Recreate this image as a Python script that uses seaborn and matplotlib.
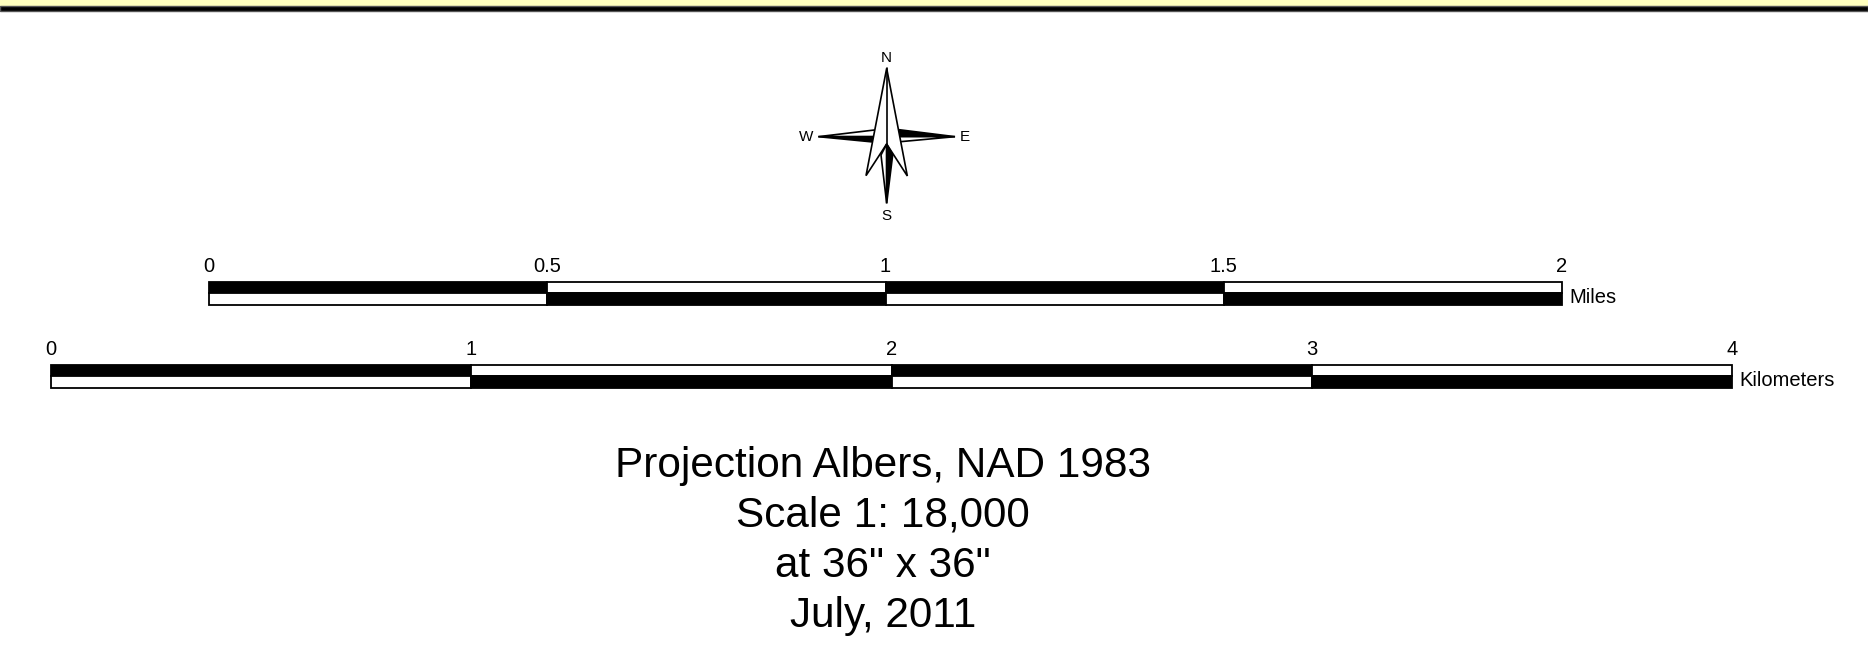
import numpy as np
import matplotlib
matplotlib.use('Agg')
import matplotlib.pyplot as plt
from matplotlib.patches import Polygon, Rectangle
import seaborn as sns

sns.set_style('white')
plt.rcParams['font.family'] = ['Liberation Sans', 'DejaVu Sans']
plt.rcParams['text.color'] = 'black'

# scale bar data
miles_ticks = [0, 0.5, 1, 1.5, 2]
miles_labels = ['0', '0.5', '1', '1.5', '2']
km_ticks = [0, 1, 2, 3, 4]
km_labels = ['0', '1', '2', '3', '4']
info_lines = ['Projection Albers, NAD 1983', 'Scale 1: 18,000', 'at 36" x 36"', 'July, 2011']

W, H = 1868, 659
fig = plt.figure(figsize=(W / 100, H / 100), dpi=100)
fig.patch.set_facecolor('white')


def px_box(x0, y0, x1, y1):
    # pixel box (top-left origin) -> figure fraction rect
    return [x0 / W, 1 - y1 / H, (x1 - x0) / W, (y1 - y0) / H]


# top banner
fig.patches.append(Rectangle((0, 1 - 5.5 / H), 1, 5.5 / H, transform=fig.transFigure,
                             facecolor='#ffffbe', edgecolor='none'))
fig.patches.append(Rectangle((0, 1 - 10.5 / H), 1, 5 / H, transform=fig.transFigure,
                             facecolor='black', edgecolor='#555555', linewidth=1))


def scale_bar(rect, ticks, labels, unit):
    ax = fig.add_axes(rect)
    starts = np.array(ticks[:-1], dtype=float)
    widths = np.diff(ticks)
    top_cols = ['black' if i % 2 == 0 else 'white' for i in range(len(starts))]
    bot_cols = ['white' if i % 2 == 0 else 'black' for i in range(len(starts))]
    for yc, cols in [(1.5, top_cols), (0.5, bot_cols)]:
        bars = ax.barh([yc] * len(starts), widths, left=starts, height=1.0,
                       color=cols, edgecolor='black', linewidth=1.3)
        for p in bars.patches:
            p.set_clip_on(False)
    ax.set_xlim(ticks[0], ticks[-1])
    ax.set_ylim(0, 2)
    ax.set_yticks([])
    ax.set_xticks(ticks)
    ax.set_xticklabels(labels)
    ax.xaxis.tick_top()
    ax.tick_params(axis='x', length=0, pad=4, labelsize=14.5, colors='black')
    for s in ax.spines.values():
        s.set_visible(False)
    ax.set_facecolor('none')
    ax.annotate(unit, xy=(ticks[-1], 1.0), xytext=(5, -3), textcoords='offset points',
                ha='left', va='center', fontsize=14.5, color='black')
    return ax


scale_bar(px_box(209, 281.5, 1562, 305), miles_ticks, miles_labels, 'Miles')
scale_bar(px_box(51, 364.5, 1732, 388), km_ticks, km_labels, 'Kilometers')

# north arrow (drawn in a small axes, coordinates in local units)
cax = fig.add_axes(px_box(780, 40, 1000, 230))
cax.set_xlim(0, 660)
cax.set_ylim(570, 0)
cax.axis('off')
lw = 1.2
arms = [
    ([(340, 267), (525, 290), (340, 290)], 'black'),
    ([(340, 290), (525, 290), (340, 307)], 'white'),
    ([(300, 268), (115, 290), (300, 290)], 'white'),
    ([(300, 290), (115, 290), (300, 308)], 'black'),
]
for pts, c in arms:
    cax.add_patch(Polygon(pts, closed=True, facecolor=c, edgecolor='black', linewidth=lw, zorder=1))
cax.add_patch(Polygon([(320, 85), (258, 407), (320, 312), (382, 408)], closed=True,
                      facecolor='white', edgecolor='black', linewidth=lw, zorder=2))
cax.plot([320, 320], [85, 312], color='black', linewidth=lw, zorder=3)
cax.add_patch(Polygon([(320, 312), (303, 345), (320, 490)], closed=True,
                      facecolor='white', edgecolor='black', linewidth=lw, zorder=3))
cax.add_patch(Polygon([(320, 312), (338, 345), (320, 490)], closed=True,
                      facecolor='black', edgecolor='black', linewidth=lw, zorder=3))
for lab, x, y in [('N', 320, 55), ('S', 320, 527), ('W', 78, 290), ('E', 553, 290)]:
    cax.text(x, y, lab, ha='center', va='center', fontsize=11, color='black')

# info text
for i, line in enumerate(info_lines):
    fig.text(883 / W, 1 - (466 + 50 * i) / H, line, ha='center', va='center',
             fontsize=30.4, color='black')

fig.savefig('out.png', dpi=100)
